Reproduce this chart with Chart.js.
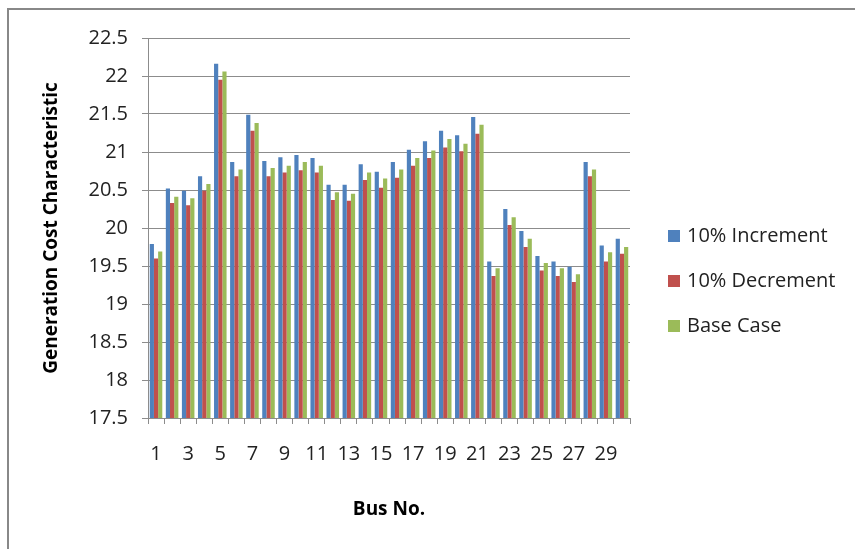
<!DOCTYPE html>
<html>
<head>
<meta charset="utf-8">
<script src="https://cdn.jsdelivr.net/npm/chart.js@4.4.0/dist/chart.umd.min.js"></script>
<style>
  html, body { margin: 0; padding: 0; background: #fff; }
  #wrap { width: 855px; height: 549px; position: relative; }
</style>
</head>
<body>
<div id="wrap"><canvas id="costChart" width="855" height="549"></canvas></div>
<script>
// bus numbers 1..30
const buses = ['1','2','3','4','5','6','7','8','9','10','11','12','13','14','15',
  '16','17','18','19','20','21','22','23','24','25','26','27','28','29','30'];

const increment = [19.79, 20.52, 20.49, 20.68, 22.16, 20.87, 21.49, 20.88, 20.93, 20.96,
  20.92, 20.57, 20.57, 20.84, 20.74, 20.87, 21.03, 21.14, 21.28, 21.22,
  21.46, 19.56, 20.25, 19.96, 19.63, 19.56, 19.49, 20.87, 19.77, 19.86];

const decrement = [19.60, 20.33, 20.30, 20.49, 21.95, 20.68, 21.28, 20.68, 20.73, 20.76,
  20.73, 20.37, 20.36, 20.63, 20.53, 20.66, 20.82, 20.92, 21.06, 21.01,
  21.24, 19.37, 20.04, 19.75, 19.44, 19.37, 19.29, 20.68, 19.56, 19.66];

const baseCase = [19.69, 20.41, 20.39, 20.58, 22.06, 20.77, 21.38, 20.79, 20.82, 20.87,
  20.82, 20.47, 20.45, 20.73, 20.65, 20.77, 20.92, 21.02, 21.17, 21.11,
  21.36, 19.47, 20.14, 19.86, 19.54, 19.47, 19.39, 20.77, 19.68, 19.75];

const seriesNames = ['10% Increment', '10% Decrement', 'Base Case'];
const seriesColors = ['#4F81BD', '#C0504D', '#9BBB59'];

const FONT = '"Open Sans", Lato, sans-serif';
const gridGray = '#8c8c8c';

// outer frame (only top and left edges are visible in the original)
const framePlugin = {
  id: 'frame',
  beforeDraw(chart) {
    const ctx = chart.ctx;
    ctx.save();
    ctx.strokeStyle = '#888';
    ctx.lineWidth = 2;
    ctx.beginPath();
    ctx.moveTo(855, 9);
    ctx.lineTo(8, 9);
    ctx.lineTo(8, 549);
    ctx.stroke();
    ctx.restore();
  }
};

// legend to the right of the plot
const sideLegend = {
  id: 'sideLegend',
  afterDraw(chart) {
    const ctx = chart.ctx;
    ctx.save();
    ctx.font = '20px ' + FONT;
    ctx.textBaseline = 'middle';
    chart.data.datasets.forEach((ds, i) => {
      const y = 236 + i * 45;
      ctx.fillStyle = ds.backgroundColor;
      ctx.fillRect(668, y - 6, 12, 12);
      ctx.fillStyle = '#222';
      ctx.fillText(ds.label, 687, y);
    });
    ctx.restore();
  }
};

const ctx = document.getElementById('costChart').getContext('2d');
new Chart(ctx, {
  type: 'bar',
  data: {
    labels: buses,
    datasets: [
      { label: seriesNames[0], data: increment, backgroundColor: seriesColors[0] },
      { label: seriesNames[1], data: decrement, backgroundColor: seriesColors[1] },
      { label: seriesNames[2], data: baseCase, backgroundColor: seriesColors[2] }
    ]
  },
  options: {
    responsive: false,
    animation: false,
    layout: { padding: { top: 38, right: 225, bottom: 0, left: 40 } },
    datasets: { bar: { categoryPercentage: 0.78, barPercentage: 1.0 } },
    plugins: {
      legend: { display: false },
      tooltip: { enabled: false }
    },
    scales: {
      x: {
        afterFit(scale) { scale.height = 131; },
        grid: { drawOnChartArea: false, drawTicks: true, tickLength: 6, color: gridGray, offset: true },
        border: { color: gridGray },
        ticks: {
          autoSkip: false,
          maxRotation: 0,
          padding: 18,
          color: '#222',
          font: { family: FONT, size: 20 },
          callback: function(value, index) { return index % 2 === 0 ? this.getLabelForValue(value) : ''; }
        },
        title: {
          display: true,
          text: 'Bus No.',
          color: '#000',
          font: { family: FONT, size: 19, weight: 'bold' },
          padding: { top: 0, bottom: 28 }
        }
      },
      y: {
        min: 17.5,
        max: 22.5,
        afterFit(scale) { scale.width = 108; },
        grid: { color: gridGray, tickLength: 6 },
        border: { color: gridGray },
        ticks: {
          stepSize: 0.5,
          padding: 14,
          color: '#222',
          font: { family: FONT, size: 20 },
          callback: v => String(v)
        },
        title: {
          display: true,
          text: 'Generation Cost Characteristic',
          color: '#000',
          font: { family: FONT, size: 19, weight: 'bold' },
          padding: { top: 0, bottom: 0 }
        }
      }
    }
  },
  plugins: [framePlugin, sideLegend]
});
</script>
</body>
</html>
